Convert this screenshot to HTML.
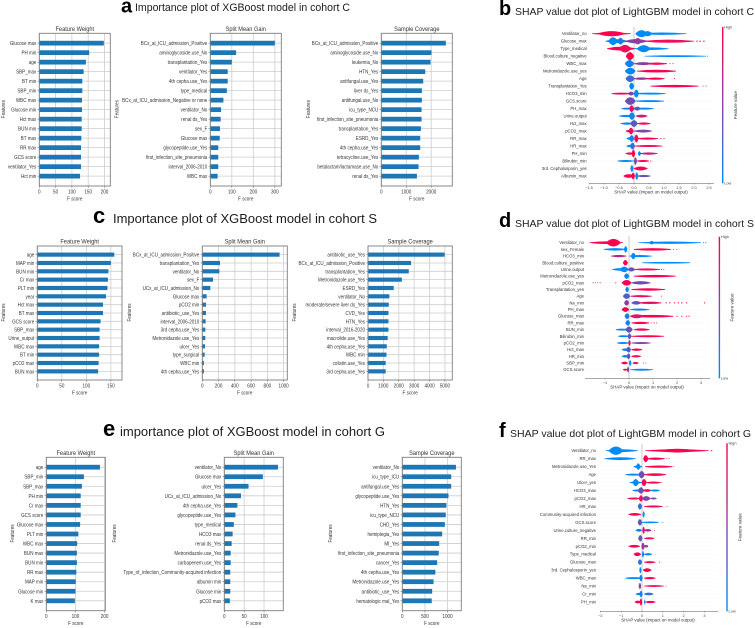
<!DOCTYPE html>
<html lang="en">
<head>
<meta charset="utf-8">
<title>XGBoost importance and LightGBM SHAP plots</title>
<style>
html,body{margin:0;padding:0;background:#fff;}
#figure{display:block;width:755px;height:628px;font-family:"Liberation Sans",sans-serif;}
.head{font-family:"Liberation Sans",sans-serif;fill:#1c1c1c;}
.letter{font-family:"Liberation Sans",sans-serif;font-weight:bold;fill:#000;}
</style>
</head>
<body>
<svg id="figure" xmlns="http://www.w3.org/2000/svg" width="755" height="628" viewBox="0 0 755 628">
  <defs>
    <filter id="soft" x="0" y="0" width="100%" height="100%"><feGaussianBlur stdDeviation="0.35"/></filter>
    <filter id="soft-head" x="0" y="0" width="100%" height="100%"><feGaussianBlur stdDeviation="0.2"/></filter>
    <linearGradient id="shap-gradient" x1="0" y1="0" x2="0" y2="1">
      <stop offset="0" stop-color="#ff0051"/>
      <stop offset="0.5" stop-color="#8a45a6"/>
      <stop offset="1" stop-color="#008bfb"/>
    </linearGradient>
  </defs>
  <rect width="755" height="628" fill="#fff"/>
  <g id="charts" filter="url(#soft)"></g>
  <g filter="url(#soft-head)">
    <text class="letter" x="121" y="12.5" font-size="20">a</text>
    <text class="head" x="135" y="11" font-size="11" textLength="215" lengthAdjust="spacingAndGlyphs">Importance plot of XGBoost model in cohort C</text>
    <text class="letter" x="499" y="15" font-size="20">b</text>
    <text class="head" x="515" y="15" font-size="10.5" textLength="239" lengthAdjust="spacingAndGlyphs">SHAP value dot plot of LightGBM model in cohort C</text>
    <text class="letter" x="93" y="223" font-size="22">c</text>
    <text class="head" x="113" y="223" font-size="13" textLength="264" lengthAdjust="spacingAndGlyphs">Importance plot of XGBoost model in cohort S</text>
    <text class="letter" x="499" y="227" font-size="20">d</text>
    <text class="head" x="515" y="227" font-size="10.5" textLength="239" lengthAdjust="spacingAndGlyphs">SHAP value dot plot of LightGBM model in cohort S</text>
    <text class="letter" x="103" y="436" font-size="22">e</text>
    <text class="head" x="120" y="436" font-size="13" textLength="265" lengthAdjust="spacingAndGlyphs">importance plot of XGBoost model in cohort G</text>
    <text class="letter" x="499" y="437" font-size="20">f</text>
    <text class="head" x="510" y="437" font-size="10.5" textLength="241" lengthAdjust="spacingAndGlyphs">SHAP value dot plot of LightGBM model in cohort G</text>
  </g>
</svg>
<script>
// ---------- Importance plots: cohort C ----------
const catsCWeight = ["Glucose max","PH min","age","SBP_max","BT min","SBP_min","WBC max","Glucose min","Hct max","BUN min","BT max","RR max","GCS score","ventilator_Yes","Hct min"];
const valsCWeight = [198,153,143,136,132,132,131,131,130,130,129,128,128,128,125];
const ticksCWeight = [0,50,100,150,200];
const catsCGain = ["BCx_at_ICU_admission_Positive","aminoglycoside.use_No","transplantation_Yes","ventilator_Yes","4th cepha.use_Yes","type_medical","BCx_at_ICU_admission_Negative or none","ventilator_No","renal ds_Yes","sex_F","Glucose max","glycopeptide.use_Yes","first_infection_site_pneumonia","interval_2006-2010","WBC max"];
const valsCGain = [300,120,100,81,81,77,61,50,48,45,44,37,37,37,34];
const ticksCGain = [0,100,200,300];
const catsCCover = ["BCx_at_ICU_admission_Positive","aminoglycoside.use_No","leukemia_No","HTN_Yes","antifungal.use_Yes","liver ds_Yes","antifungal.use_No","icu_type_NCU","first_infection_site_pneumonia","transplantation_Yes","ESRD_Yes","4th cepha.use_Yes","tetracycline.use_Yes","betalactam/lactamase.use_No","renal ds_Yes"];
const valsCCover = [2587,2013,1973,1760,1680,1627,1627,1613,1613,1587,1560,1560,1507,1493,1427];
const ticksCCover = [0,1000,2000];

// ---------- Importance plots: cohort S ----------
const catsSWeight = ["age","MAP min","BUN min","Cr max","PLT min","year","Hct max","BT max","GCS score","SBP_max","Urine_output","WBC max","BT min","pCO2 max","BUN max"];
const valsSWeight = [157,150,145,144,143,140,134,134,129,127,127,126,126,125,124];
const ticksSWeight = [0,50,100,150];
const catsSGain = ["BCx_at_ICU_admission_Positive","transplantation_Yes","ventilator_No","sex_F","UCx_at_ICU_admission_No","Glucose max","pCO2 min","antibiotic_use_Yes","interval_2006-2010","3rd cepha.use_Yes","Metronidazole.use_Yes","ulcer_Yes","type_surgical","WBC min","4th cepha.use_Yes"];
const valsSGain = [950,218,210,132,99,53,45,45,41,37,37,33,29,20,20];
const ticksSGain = [0,200,400,600,800,1000];
const catsSCover = ["antibiotic_use_Yes","BCx_at_ICU_admission_Positive","transplantation_Yes","Metronidazole.use_Yes","ESRD_Yes","ventilator_No","moderate/severe liver ds_Yes","CVD_Yes","HTN_Yes","interval_2016-2020","macrolide.use_Yes","4th cepha.use_Yes","WBC min","colistin.use_Yes","3rd cepha.use_Yes"];
const valsSCover = [4980,2800,2650,2200,1670,1390,1350,1330,1330,1330,1280,1220,1200,1150,1150];
const ticksSCover = [0,1000,2000,3000,4000,5000];

// ---------- Importance plots: cohort G ----------
const catsGWeight = ["age","SBP_min","SBP_max","PH min","Cr max","GCS score","Glucose max","PLT min","WBC max","BUN max","BUN min","RR max","MAP min","Glucose min","K max"];
const valsGWeight = [184,129,122,118,118,118,116,110,106,105,105,103,101,100,98];
const ticksGWeight = [0,100,200];
const catsGGain = ["ventilator_No","Glucose max","ulcer_Yes","UCx_at_ICU_admission_No","4th cepha.use_Yes","glycopeptide.use_Yes","type_medical","HCO3 max","renal ds_Yes","Metronidazole.use_Yes","carbapenem.use_Yes","Type_of_infection_Community-acquired infection","albumin min","Glucose min","pCO2 max"];
const valsGGain = [135,97,61,42,33,28,24,21,18.5,16,16,15,15,15,14];
const ticksGGain = [0,50,100];
const catsGCover = ["ventilator_No","icu_type_ICU","antifungal.use_Yes","glycopeptide.use_Yes","HTN_Yes","icu_type_NCU","CHD_Yes","hemiplegia_Yes","MI_Yes","first_infection_site_pneumonia","cancer_Yes","4th cepha.use_Yes","Metronidazole.use_Yes","antibiotic_use_Yes","hematologic mal_Yes"];
const valsGCover = [1185,1080,1080,1020,975,960,940,880,815,805,770,730,690,660,650];
const ticksGCover = [0,500,1000];

// ---------- SHAP plots: each span is [fromShap, toShap, density, featureValue] ----------
const shapFeaturesC = ["Ventilator_no","Glucose_max","Type_medical","Blood.culture_negative","WBC_max","Metronidazole.use_yes","Age","Transplantation_Yes","HCO3_min","GCS.score","PH_max","Urine.output","Hct_max","pCO2_max","RR_max","HR_max","PH_min","Bilirubin_min","3rd. Cephalosporin_yes","Albumin_max"];
const shapSpansC = [
 [[-1.4,-0.1,1.2,1],[-1.2,-0.3,2.6,1],[0.1,1.75,1.2,0],[0.05,0.45,3.6,0],[0.3,0.6,2.6,0]],
 [[-0.95,-0.2,2,0.1],[-0.85,-0.55,4,0],[-0.55,-0.35,3.4,0.1],[-0.3,0.45,2.2,0.5],[0,0.25,3.2,0.6],[0.3,2.0,1.6,0.95],[2.1,2.1,1,1],[2.2,2.2,1,1],[2.33,2.33,1,1]],
 [[-0.9,0.05,2,1],[-0.5,-0.1,3.8,0.95],[0,1.15,1.3,0],[0.1,0.55,3.6,0]],
 [[-0.27,0,4,1],[0.35,2.4,0.9,0],[2.45,2.45,0.8,0]],
 [[-0.3,0,3.6,0.08],[0,0.6,1.5,0.55],[0.4,1.1,1.2,0.95],[1.2,1.2,0.8,1],[1.3,1.3,0.8,1]],
 [[-0.3,0.05,3.4,0.02],[0.1,1.4,1.4,1]],
 [[-0.28,0.02,3.4,0.25],[0,0.5,1.2,0.6],[0.4,1.02,1.1,1],[1.35,1.35,0.8,1]],
 [[-0.16,0,3.5,0.02],[0.55,2.15,1.2,1],[2.3,2.3,0.8,1],[2.4,2.4,0.8,1]],
 [[-0.75,-0.1,1,0.9],[-0.2,0,2,0.5],[0,0.16,4,0],[0,1.05,1,0]],
 [[-0.3,0.05,3.8,0.45],[0,1.0,1,0]],
 [[-0.42,0,1,0.1],[-0.16,0,3.4,0.9],[0,0.65,1,0.02],[0,0.22,2,0.35]],
 [[-0.5,0,1.2,0],[-0.17,0.03,3.8,0.03],[0.05,0.45,1.5,0.8]],
 [[-0.45,0,1.2,0.05],[-0.12,0.12,3.4,0.35],[0.1,0.55,1.2,0.95]],
 [[-0.28,0,1.3,0.9],[-0.18,-0.02,3.4,0.95],[0,0.6,1.5,0.5]],
 [[-0.25,0,1.4,0.05],[-0.16,0,3.4,0.05],[0.01,0.15,4,0.95],[0.1,0.8,1.1,1],[0.9,0.9,0.9,1],[1,1,0.9,1]],
 [[-0.25,0,1.3,0],[-0.13,0.03,3.4,0.15],[0,0.95,1,0.95]],
 [[-0.28,0,1.2,1],[-0.08,0.04,3.8,1],[0.13,0.23,2.4,0],[0.2,0.78,1.2,0.75]],
 [[-0.55,0,1,0],[0,0.1,3.8,0.45],[0.1,0.5,1,1],[0.55,0.55,0.7,1],[0.6,0.6,0.7,1]],
 [[-0.12,-0.02,3.4,0.02],[0,0.45,2,1]],
 [[-0.35,0,1.9,1],[-0.09,0.03,3.4,1],[0.04,0.14,3.8,0],[0.1,0.55,1.1,0.4]]
];
const shapTicksC = [-1.5,-1,-0.5,0,0.5,1,1.5,2,2.5];

const shapFeaturesS = ["Ventilator_no","sex_Female","HCO3_min","Blood.culture_positive","Urine.output","Metronidazole.use_yes","pCO2_max","Transplantation_yes","Age","Na_min","PH_max","Glucose_max","RR_max","BUN_min","Bilirubin_min","pCO2_min","Hct_max","HR_min","SBP_min","GCS.score"];
const shapSpansS = [
 [[-1.65,-0.25,1.3,1],[-0.95,-0.35,3.8,1],[0.4,3.0,1.2,0],[0.85,1.05,1.8,0],[3.1,3.1,0.8,0],[3.2,3.2,0.8,0]],
 [[-1.05,-0.1,1.2,0],[-0.21,-0.07,3.2,0],[0.2,1.75,1.3,1],[1.85,1.85,0.8,1],[2.0,2.0,0.8,1]],
 [[-0.75,-0.1,1.2,0.7],[0.08,0.28,3.2,0],[0,0.95,1.1,0]],
 [[-0.25,-0.05,2.8,1],[0.55,2.55,0.9,0]],
 [[-0.7,0,1.3,0],[-0.38,-0.02,2.8,0],[-0.05,0.25,2.2,0.4],[0.2,1.3,1.1,0.95],[1.35,1.35,0.8,1],[1.45,1.45,0.8,1]],
 [[-0.2,0,2.8,0.02],[0.2,1.95,1.2,1]],
 [[-1.5,-1.5,0.8,1],[-1.4,-1.4,0.8,1],[-1.3,-1.3,0.8,1],[-1.2,-1.2,0.8,1],[-0.55,-0.55,0.9,1],[-0.3,0.1,2.8,1],[0.1,0.9,1.7,0.45]],
 [[-0.15,-0.01,2.8,0.02],[0.1,1.5,1.2,1]],
 [[-0.25,0.05,2.8,0.3],[0.05,0.95,1.1,0.9],[1.35,1.35,0.8,1]],
 [[-0.2,0,2.8,0.55],[0.1,0.5,1.8,0.35],[0.4,1.35,1.2,0.9],[1.55,1.55,1,1],[1.7,1.7,1,1],[1.9,1.9,1,1],[2.05,2.05,1,1],[2.2,2.2,1,1],[2.4,2.4,1,1],[3.15,3.15,0.9,1]],
 [[-0.3,0,2.4,1],[0.05,0.85,1.1,0.05]],
 [[-0.18,0.02,2.8,0.1],[0.05,1.85,1.3,1],[0.05,0.6,2,0.85],[2.0,2.0,0.9,1],[2.2,2.2,0.9,1],[2.4,2.4,0.9,1],[2.5,2.5,0.9,1]],
 [[-0.15,0.05,2.8,0.05],[0.1,0.85,1.1,1],[0.95,0.95,0.8,1],[1.05,1.05,0.8,1],[1.15,1.15,0.8,1]],
 [[-0.55,0,1,0.05],[-0.15,0.15,3,0.4],[0.2,0.85,1.2,1]],
 [[-0.45,0,1,0.05],[-0.06,0.1,2.8,0.35],[0.1,1.45,1,1]],
 [[-0.5,0,1,0],[-0.03,0.07,2.8,1],[0.1,0.9,1,0.5]],
 [[-0.3,0,1.3,0.05],[-0.12,0.08,2.8,0.35],[0.1,0.55,1.2,1]],
 [[-0.3,0,1.3,0.05],[-0.1,0.06,2.8,0.35],[0.1,0.5,1.2,0.95]],
 [[-0.32,-0.05,1.4,1],[0,0.1,2.8,0.02],[0.15,0.4,1.1,0.8],[0.6,0.6,0.8,0.5],[0.7,0.7,0.8,0.5]],
 [[-0.25,-0.05,1,1],[-0.09,0.01,2.8,0.45],[0.05,1.0,1,0]]
];
const shapTicksS = [-1,0,1,2,3];

const shapFeaturesG = ["Ventilator_no","RR_max","Metronidazole.use_Yes","Age","Ulcer_yes","HCO3_max","pCO2_max","HR_max","Community-acquired infection","GCS.score","Urine.culture_negative","RR_min","pCO2_min","Type_medical","Glucose_max","3rd. Cephalosporin_yes","WBC_max","Na_min","Cr_min","PH_min"];
const shapSpansG = [
 [[-1.75,-0.2,1.4,0],[-1.6,-0.9,4.2,0],[0.15,3.2,1.4,1],[0.8,2.6,1.9,1],[3.35,3.35,1,1]],
 [[-1.8,-0.3,1.4,0],[0.06,0.3,3.6,1],[0.2,1.1,1.2,1],[1.2,1.2,0.8,1],[1.3,1.3,0.8,1]],
 [[-0.4,0,1.3,0],[-0.28,-0.08,3.2,0],[0.15,1.45,1.1,1],[1.5,1.5,0.7,1]],
 [[-0.8,0,1,0.05],[-0.17,0.13,3.6,0.4],[0.1,1.15,1.4,0.95]],
 [[-0.6,0,1,0],[-0.45,-0.15,3.6,0],[-0.02,0.22,3.6,1],[0.2,0.9,1.1,1],[0.95,0.95,0.7,1]],
 [[-0.45,0,1,0],[-0.2,0.1,3.2,0.4],[0.05,0.45,1.4,1],[0.4,0.85,1,0.05]],
 [[-0.7,-0.1,1,0.95],[-0.15,0.05,3.2,0.95],[0,0.4,2.4,0.5],[0.4,0.7,1,0.45]],
 [[-0.2,0,3.2,0.2],[0.1,1.0,1.1,0.95],[1.2,1.2,0.7,1]],
 [[-0.65,-0.05,1.4,1],[0.03,0.13,3.2,0.02]],
 [[-0.2,0,3.2,0.4],[0,0.8,0.9,0],[1.0,1.0,0.8,0]],
 [[-0.3,0,1.4,0.02],[0.02,0.14,3.6,1],[0.1,0.45,1.3,0.65],[0.6,0.6,0.7,1]],
 [[-0.18,0.02,3.2,0.4],[0.1,0.6,1.1,0.95]],
 [[-0.65,-0.1,1.4,1],[-0.03,0.13,3.6,0.6],[0.1,0.3,1.4,0.45]],
 [[-0.4,-0.05,1.9,1],[0,0.1,3.2,0.02],[0.1,0.48,1.1,0.02]],
 [[-0.2,0,2.8,0.15],[0.1,0.65,1.1,0.95],[0.85,0.85,0.8,1]],
 [[-0.13,-0.03,3.2,0.02],[0.05,0.45,1.9,1]],
 [[-0.8,0,1,0],[-0.13,0.03,3.2,0.05],[0.1,0.65,1.1,1]],
 [[-0.16,-0.04,3.2,0.5],[0.1,1.05,0.9,0.95],[1.15,1.15,0.7,1]],
 [[-0.3,0,1.1,0.05],[-0.13,0.03,3.2,0.05],[0.1,0.55,1.4,0.15]],
 [[-0.35,-0.05,1.4,1],[-0.11,0.01,3.6,1],[0.1,0.16,2.8,0],[0.15,0.65,1.1,1]]
];
const shapTicksG = [-2,-1,0,1,2,3];

const svgNS = 'http://www.w3.org/2000/svg';
const root = document.getElementById('charts');

function mk(parent, tag, attrs, txt) {
  const el = document.createElementNS(svgNS, tag);
  for (const k in attrs) el.setAttribute(k, attrs[k]);
  if (txt !== undefined) el.textContent = txt;
  parent.appendChild(el);
  return el;
}

// The source plots use a tall, narrow face: squeeze the real text horizontally.
function squeeze(el, factor) {
  const len = el.getComputedTextLength();
  if (len > 0) {
    el.setAttribute('textLength', (len * factor).toFixed(2));
    el.setAttribute('lengthAdjust', 'spacingAndGlyphs');
  }
}

function drawImportance(panelName, title, cats, vals, ticks, box, featuresX) {
  const g = mk(root, 'g', {});
  
  
  const xMax = Math.max(...vals) * 1.1;
  const xScale = v => box.x0 + (v / xMax) * (box.x1 - box.x0);
  const h = box.y1 - box.y0;
  const pad = 0.0645 * h;
  const yScale = i => box.y0 + pad + i * (h - 2 * pad) / (cats.length - 1);
  const barH = 0.5 * (h - 2 * pad) / (cats.length - 1);
  const gridColor = '#cdcdcd';

  ticks.forEach(t => {
    const gl = mk(g, 'line', {x1: xScale(t), x2: xScale(t), y1: box.y0, y2: box.y1, stroke: gridColor, 'stroke-width': 0.8});
    
    
    const tm = mk(g, 'line', {x1: xScale(t), x2: xScale(t), y1: box.y1, y2: box.y1 + 1.8, stroke: '#555', 'stroke-width': 0.5});
    
    
    const tl = mk(g, 'text', {x: xScale(t), y: box.y1 + 7.5, 'font-size': 5.6, 'text-anchor': 'middle', fill: '#333'}, String(t));
    
    
    squeeze(tl, 0.82);
  });
  cats.forEach((c, i) => {
    const y = yScale(i);
    const gl = mk(g, 'line', {x1: box.x0, x2: box.x1, y1: y, y2: y, stroke: gridColor, 'stroke-width': 0.8});
    
    
    const bar = mk(g, 'rect', {x: xScale(0), y: y - barH / 2, width: xScale(vals[i]) - xScale(0), height: barH, fill: '#1f77b4'});
    
    
    const tm = mk(g, 'line', {x1: box.x0 - 1.8, x2: box.x0, y1: y, y2: y, stroke: '#555', 'stroke-width': 0.5});
    
    
    const lab = mk(g, 'text', {x: box.x0 - 3, y: y + 2, 'font-size': 5.6, 'text-anchor': 'end', fill: '#333'}, c);
    
    
    squeeze(lab, 0.81);
  });
  const frame = mk(g, 'rect', {x: box.x0, y: box.y0, width: box.x1 - box.x0, height: h, fill: 'none', stroke: '#7d7d7d', 'stroke-width': 0.9});
  
  
  const ttl = mk(g, 'text', {x: (box.x0 + box.x1) / 2, y: box.y0 - 2.4, 'font-size': 6.3, 'text-anchor': 'middle', fill: '#333'}, title);
  
  
  squeeze(ttl, 0.9);
  const xl = mk(g, 'text', {x: (box.x0 + box.x1) / 2, y: box.y1 + 14.5, 'font-size': 5.6, 'text-anchor': 'middle', fill: '#333'}, 'F score');
  
  
  squeeze(xl, 0.82);
  const cy = (box.y0 + box.y1) / 2 - 0.5;
  const fx = featuresX + 1.8;
  const yl = mk(g, 'text', {x: fx, y: cy, 'font-size': 5.6, 'text-anchor': 'middle', fill: '#333', transform: 'rotate(-90 ' + fx + ' ' + cy + ')'}, 'Features');
  
  
  squeeze(yl, 0.82);
}

function shapColor(v) {
  const a = [0, 139, 251], b = [255, 0, 81];
  const c = a.map((s, i) => Math.round(s + (b[i] - s) * v));
  return 'rgb(' + c.join(',') + ')';
}

function drawShap(panelName, features, spans, ticks, geo) {
  const g = mk(root, 'g', {});
  
  
  const xScale = v => geo.zeroX + v * geo.unit;
  const yScale = i => geo.top + i * (geo.bottom - geo.top) / (features.length - 1);

  features.forEach((f, i) => {
    const rowLine = mk(g, 'line', {x1: geo.axisL, x2: geo.axisR, y1: yScale(i), y2: yScale(i), stroke: '#ececec', 'stroke-width': 0.4, 'stroke-dasharray': '0.6 1'});
    
    
  });
  const zero = mk(g, 'line', {x1: xScale(0), x2: xScale(0), y1: geo.top - 7, y2: geo.axisY, stroke: '#b5b5b5', 'stroke-width': 0.7});
  
  

  features.forEach((f, i) => {
    const y = yScale(i);
    spans[i].forEach(s => {
      const fill = shapColor(s[3]);
      if (s[0] === s[1]) {
        const dot = mk(g, 'circle', {cx: xScale(s[0]), cy: y, r: 0.65 * s[2], fill: fill});
        
        
      } else {
        const x0 = xScale(s[0]), x1 = xScale(s[1]), cx = (x0 + x1) / 2;
        const edge = 0.35;
        const ctrl = 2 * s[2] - edge;
        const d = 'M' + x0 + ' ' + (y - edge) + 'Q' + cx + ' ' + (y - ctrl) + ' ' + x1 + ' ' + (y - edge)
                + 'L' + x1 + ' ' + (y + edge) + 'Q' + cx + ' ' + (y + ctrl) + ' ' + x0 + ' ' + (y + edge) + 'Z';
        const mark = mk(g, 'path', {d: d, fill: fill});
        
        
      }
    });
    const lab = mk(g, 'text', {x: geo.labelX, y: y + 1.5, 'font-size': 4.25, 'text-anchor': 'end', fill: '#333'}, f);
    
    
  });

  const axis = mk(g, 'line', {x1: geo.axisL, x2: geo.axisR, y1: geo.axisY, y2: geo.axisY, stroke: '#555', 'stroke-width': 0.5});
  
  
  ticks.forEach(t => {
    const tm = mk(g, 'line', {x1: xScale(t), x2: xScale(t), y1: geo.axisY, y2: geo.axisY + 1.2, stroke: '#555', 'stroke-width': 0.4});
    
    
    const label = geo.decimals ? t.toFixed(1) : String(t);
    const tl = mk(g, 'text', {x: xScale(t), y: geo.axisY + 5.6, 'font-size': 3.8, 'text-anchor': 'middle', fill: '#444'}, label.replace('-', '\u2212'));
    
    
  });
  const xl = mk(g, 'text', {x: geo.xLabelX, y: geo.axisY + 10, 'font-size': 4.4, 'text-anchor': 'middle', fill: '#333'}, 'SHAP value (impact on model output)');
  
  

  const cb = mk(g, 'rect', {x: geo.barX, y: geo.barTop, width: 1.4, height: geo.axisY - geo.barTop, fill: 'url(#shap-gradient)'});
  
  
  const hi = mk(g, 'text', {x: geo.barX + 2.2, y: geo.barTop + 1.4, 'font-size': 3.9, fill: '#444'}, 'High');
  
  
  const lo = mk(g, 'text', {x: geo.barX + 2.2, y: geo.axisY + 1.4, 'font-size': 3.9, fill: '#444'}, 'Low');
  
  
  const fvY = (geo.barTop + geo.axisY) / 2;
  const fv = mk(g, 'text', {x: geo.barX + 15, y: fvY, 'font-size': 4.6, 'text-anchor': 'middle', fill: '#333', transform: 'rotate(-90 ' + (geo.barX + 15) + ' ' + fvY + ')'}, 'Feature value');
  
  
}

const rowC = {y0: 33.3, y1: 186};
const rowS = {y0: 246, y1: 380};
const rowG = {y0: 457.3, y1: 610.7};

drawImportance('c-feature-weight-chart', 'Feature Weight', catsCWeight, valsCWeight, ticksCWeight, {x0: 39.3, x1: 110.3, y0: rowC.y0, y1: rowC.y1}, 3);
drawImportance('c-split-gain-chart', 'Split Mean Gain', catsCGain, valsCGain, ticksCGain, {x0: 210.3, x1: 281.3, y0: rowC.y0, y1: rowC.y1}, 116.7);
drawImportance('c-sample-coverage-chart', 'Sample Coverage', catsCCover, valsCCover, ticksCCover, {x0: 381.3, x1: 452.3, y0: rowC.y0, y1: rowC.y1}, 308);

drawImportance('s-feature-weight-chart', 'Feature Weight', catsSWeight, valsSWeight, ticksSWeight, {x0: 37.3, x1: 122, y0: rowS.y0, y1: rowS.y1}, 3);
drawImportance('s-split-gain-chart', 'Split Mean Gain', catsSGain, valsSGain, ticksSGain, {x0: 202.3, x1: 287.3, y0: rowS.y0, y1: rowS.y1}, 129);
drawImportance('s-sample-coverage-chart', 'Sample Coverage', catsSCover, valsSCover, ticksSCover, {x0: 368, x1: 452.3, y0: rowS.y0, y1: rowS.y1}, 294);

drawImportance('g-feature-weight-chart', 'Feature Weight', catsGWeight, valsGWeight, ticksGWeight, {x0: 46.3, x1: 105.3, y0: rowG.y0, y1: rowG.y1}, 12);
drawImportance('g-split-gain-chart', 'Split Mean Gain', catsGGain, valsGGain, ticksGGain, {x0: 224.3, x1: 283.3, y0: rowG.y0, y1: rowG.y1}, 114);
drawImportance('g-sample-coverage-chart', 'Sample Coverage', catsGCover, valsGCover, ticksGCover, {x0: 402.3, x1: 461.3, y0: rowG.y0, y1: rowG.y1}, 330);

drawShap('c-shap-chart', shapFeaturesC, shapSpansC, shapTicksC, {zeroX: 634, unit: 30, top: 33.7, bottom: 176, axisL: 589, axisR: 714, axisY: 183.3, labelX: 586.7, xLabelX: 651, barX: 722, barTop: 27, decimals: true});
drawShap('s-shap-chart', shapFeaturesS, shapSpansS, shapTicksS, {zeroX: 629, unit: 24, top: 242.7, bottom: 369.7, axisL: 585, axisR: 710, axisY: 378.3, labelX: 584, xLabelX: 647, barX: 718.7, barTop: 236.7, decimals: false});
drawShap('g-shap-chart', shapFeaturesG, shapSpansG, shapTicksG, {zeroX: 642, unit: 20.8, top: 450.7, bottom: 602, axisL: 600, axisR: 718, axisY: 611.3, labelX: 596, xLabelX: 658, barX: 726.3, barTop: 443.3, decimals: false});
</script>
</body>
</html>
